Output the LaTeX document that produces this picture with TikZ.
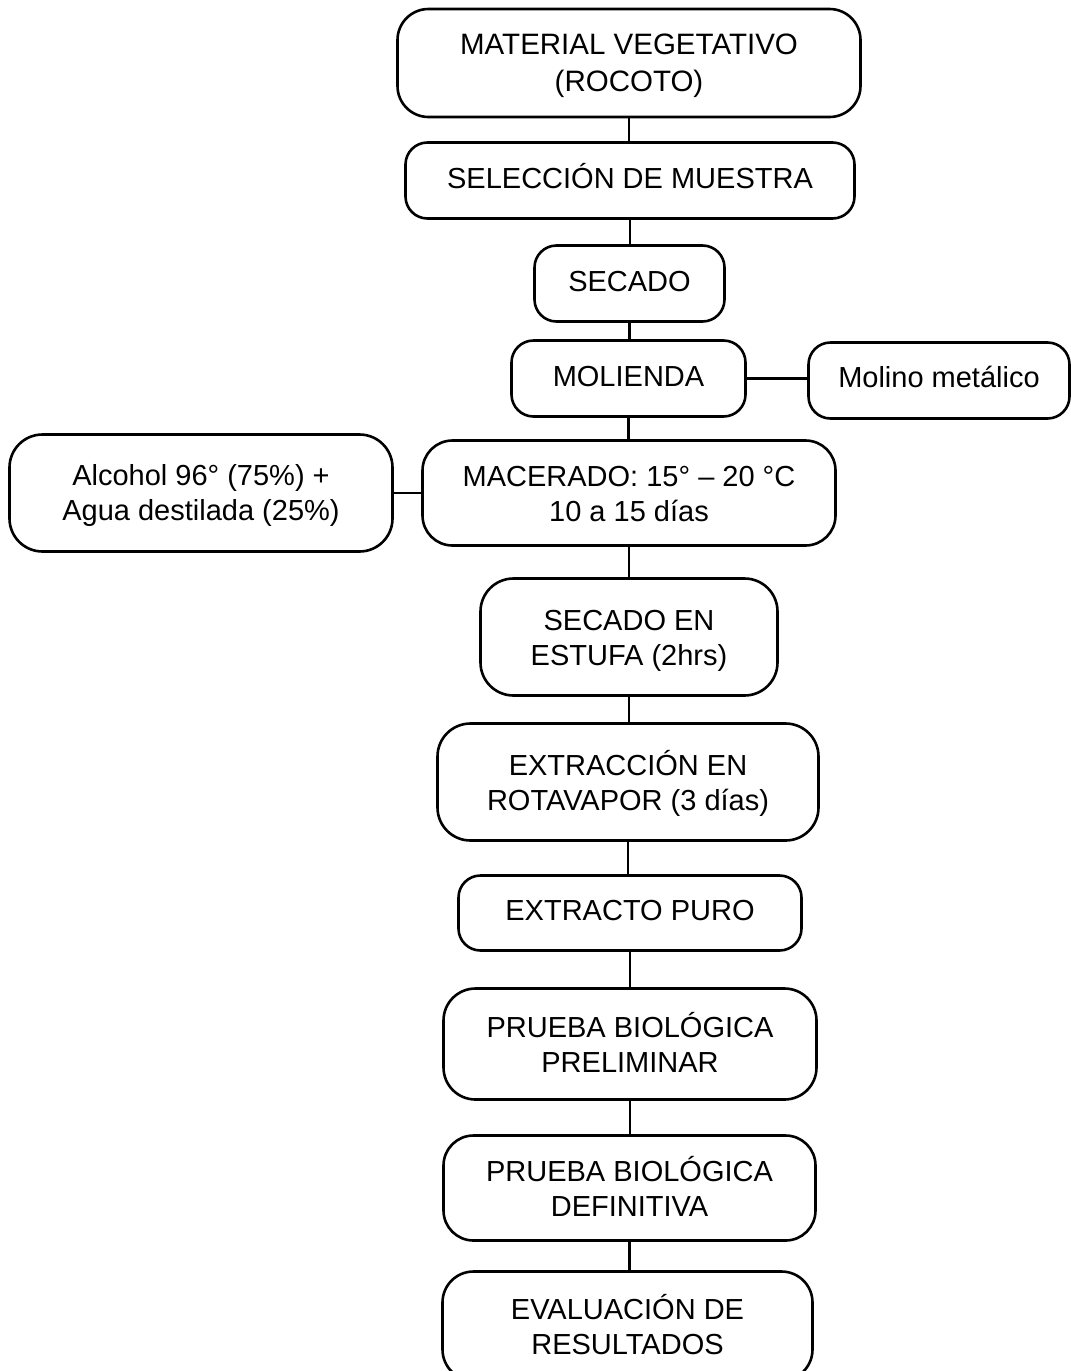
\documentclass[tikz,border=0pt]{standalone}
\usepackage{fontspec}
\setmainfont{Liberation Sans}
\newcommand\topstr{\rule{0pt}{27pt}}
\newcommand\botstr{\rule[-6pt]{0pt}{6pt}}
\begin{document}
\begin{tikzpicture}[x=1pt,y=-1pt,
  flowbox/.style={draw=black, line width=2.6pt, align=center, inner sep=0pt,
    font=\fontsize{29}{35}\selectfont, text=black},
  oneline/.style={flowbox, text height=15pt, text depth=0pt},
  link/.style={draw=black, line width=2.6pt}]
\path[use as bounding box, clip] (0,0) rectangle (1071,1371);
\fill[white] (0,0) rectangle (1071,1371);

\node[flowbox, font=\fontsize{29.5}{37}\selectfont, minimum width=463pt, minimum height=108pt, rounded corners=31pt] (mat) at (629,63) {\topstr MATERIAL VEGETATIVO\\(ROCOTO)\botstr};
\node[oneline, minimum width=449pt, minimum height=76pt, rounded corners=22pt] (sel) at (630,180.5) {SELECCIÓN DE MUESTRA};
\node[oneline, minimum width=190pt, minimum height=76pt, rounded corners=22pt] (sec) at (629.5,283.5) {SECADO};
\node[oneline, minimum width=234pt, minimum height=76pt, rounded corners=22pt] (mol) at (628.5,378.5) {MOLIENDA};
\node[oneline, minimum width=261pt, minimum height=76pt, rounded corners=22pt, text height=13pt] (molino) at (939,380.5) {Molino metálico};
\node[flowbox, minimum width=413pt, minimum height=105pt, rounded corners=30pt] (mac) at (629,493) {\topstr MACERADO: 15° – 20 °C\\10 a 15 días\botstr};
\node[flowbox, minimum width=383pt, minimum height=117pt, rounded corners=33pt] (alc) at (201,493) {\topstr Alcohol 96° (75\%) +\\Agua destilada (25\%)\botstr};
\node[flowbox, minimum width=297pt, minimum height=117pt, rounded corners=33pt] (est) at (629,637) {\topstr SECADO EN\\ESTUFA (2hrs)\botstr};
\node[flowbox, minimum width=381pt, minimum height=117pt, rounded corners=33pt] (ext) at (628,782) {\topstr EXTRACCIÓN EN\\ROTAVAPOR (3 días)\botstr};
\node[oneline, minimum width=343pt, minimum height=75pt, rounded corners=22pt] (pur) at (630,913) {EXTRACTO PURO};
\node[flowbox, minimum width=373pt, minimum height=111pt, rounded corners=32pt] (pre) at (630,1044) {\topstr PRUEBA BIOLÓGICA\\PRELIMINAR\botstr};
\node[flowbox, minimum width=372pt, minimum height=105pt, rounded corners=30pt] (def) at (629.5,1188) {\topstr PRUEBA BIOLÓGICA\\DEFINITIVA\botstr};
\node[flowbox, minimum width=370pt, minimum height=109pt, rounded corners=31pt] (eva) at (627.5,1326) {\topstr EVALUACIÓN DE\\RESULTADOS\botstr};

\draw[link] (mat.south) -- (mat.south |- sel.north);
\draw[link] (sel.south) -- (sel.south |- sec.north);
\draw[link] (sec.south) -- (sec.south |- mol.north);
\draw[link] (mol.south) -- (mol.south |- mac.north);
\draw[link] (mol.east) -- (mol.east -| molino.west);
\draw[link] (mac.west) -- (mac.west -| alc.east);
\draw[link] (mac.south) -- (mac.south |- est.north);
\draw[link] (est.south) -- (est.south |- ext.north);
\draw[link] (ext.south) -- (ext.south |- pur.north);
\draw[link] (pur.south) -- (pur.south |- pre.north);
\draw[link] (pre.south) -- (pre.south |- def.north);
\draw[link] (def.south) -- (def.south |- eva.north);
\end{tikzpicture}
\end{document}
